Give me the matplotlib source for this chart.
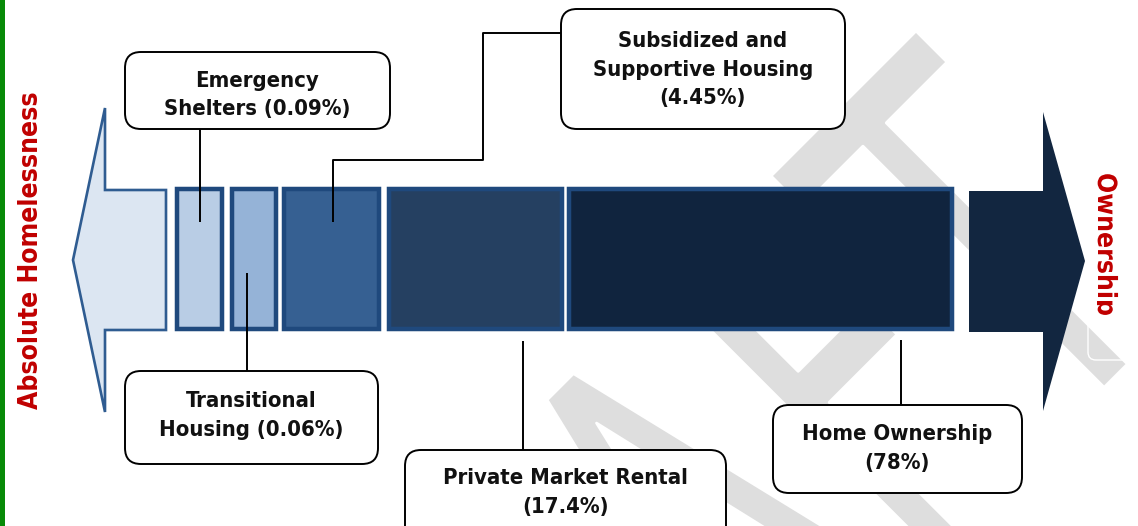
import numpy as np
import matplotlib
matplotlib.use("Agg")
import matplotlib.pyplot as plt
from matplotlib import font_manager as fm
from matplotlib.font_manager import FontProperties
from matplotlib.patches import Rectangle, Polygon, FancyBboxPatch, PathPatch
from matplotlib.textpath import TextPath
from matplotlib.transforms import Affine2D

# data: housing continuum, share of households by tenure
categories = ["Emergency Shelters", "Transitional Housing",
              "Subsidized and Supportive Housing", "Private Market Rental",
              "Home Ownership"]
shares = [0.09, 0.06, 4.45, 17.4, 78]
label_names = ["Emergency\nShelters", "Transitional\nHousing",
               "Subsidized and\nSupportive Housing", "Private Market Rental",
               "Home Ownership"]
pct_sep = [" ", " ", "\n", "\n", "\n"]
left_end = "Absolute Homelessness"
right_end = "Ownership"

seg_colors = ["#B9CDE5", "#95B3D7", "#366092", "#254061", "#10243E"]

# layout (pixels, y downwards)
W, H = 1138, 526
seg_x = [(175, 224), (230, 278), (282, 381), (387, 564), (567, 954)]
seg_y = (187, 331)
call_boxes = [(125, 52, 390, 129), (125, 371, 378, 464), (561, 9, 845, 129),
              (405, 450, 726, 545), (773, 405, 1022, 493)]
first_base = [87, 407, 47, 484, 440]
line_gap = 28.5
leaders = [
    [(200, 129), (200, 222)],
    [(247, 273), (247, 371)],
    [(561, 33), (483, 33), (483, 160), (333, 160), (333, 222)],
    [(523, 341), (523, 450)],
    [(901, 340), (901, 405)],
]

# Tahoma-like face if the condensed DejaVu is there
cond = FontProperties(family="DejaVu Sans", weight="bold", stretch="condensed")
if "Condensed" in fm.findfont(cond):
    FONT = dict(family="DejaVu Sans", fontstretch="condensed", fontweight="bold")
else:
    FONT = dict(family="Liberation Sans", fontweight="bold")

fig = plt.figure(figsize=(W / 100, H / 100), dpi=100)
ax = fig.add_axes([0, 0, 1, 1])
ax.set_xlim(0, W)
ax.set_ylim(H, 0)
ax.axis("off")

# grey DRAFT watermark, rotated 45 deg
wm_fp = FontProperties(family="DejaVu Sans")
wm = TextPath((0, 0), "DRAFT", size=1, prop=wm_fp)
tb = TextPath((0, 0), "T", size=1, prop=wm_fp).get_extents()
wb = wm.get_extents()
k = 385 / tb.y1
sx = 205 / (tb.width * k)
tr = (Affine2D().translate(-wb.x1, -tb.y1).scale(sx * k, k)
      .rotate_deg(45).scale(1, -1).translate(916, 31))
ax.add_patch(PathPatch(tr.transform_path(wm), fc="#DEDEDE", ec="white",
                       lw=2.0, joinstyle="round", zorder=0))

# faint outline of the text frame on the right (shows only on the grey)
ax.add_patch(FancyBboxPatch((1088, 140), 80, 220,
                            boxstyle="round,pad=0,rounding_size=8",
                            fc="none", ec="white", lw=1.0, zorder=0.5))

# green strip on the left edge
ax.add_patch(Rectangle((0, 0), 5, H, fc="#078A07", ec="none", zorder=1))

# left arrow (pointing to homelessness)
ax.add_patch(Polygon([(73, 260), (105, 108), (105, 190), (166, 190), (166, 330),
                      (105, 330), (105, 412)], closed=True, fc="#DCE6F2",
                     ec="#2F5C91", lw=1.9, zorder=2))
# right arrow (pointing to ownership)
ax.add_patch(Polygon([(969, 191), (1043, 191), (1043, 112), (1085, 261),
                      (1043, 411), (1043, 332), (969, 332)], closed=True,
                     fc="#122640", ec="none", zorder=2))

# segments
bw = 4.5
for (x0, x1), c in zip(seg_x, seg_colors):
    ax.add_patch(Rectangle((x0 + bw / 2, seg_y[0] + bw / 2), x1 - x0 - bw,
                           seg_y[1] - seg_y[0] - bw, fc=c, ec="#1F497D",
                           lw=bw / 1.389, zorder=2))

# leader lines
for pts in leaders:
    xs, ys = zip(*pts)
    ax.plot(xs, ys, color="black", lw=1.4, solid_capstyle="butt", zorder=3)

# callouts
for i, (x0, y0, x1, y1) in enumerate(call_boxes):
    ax.add_patch(FancyBboxPatch((x0, y0), x1 - x0, y1 - y0,
                                boxstyle="round,pad=0,rounding_size=16",
                                fc="white", ec="black", lw=1.4, zorder=4))
    txt = label_names[i] + pct_sep[i] + f"({shares[i]:g}%)"
    for j, line in enumerate(txt.split("\n")):
        ax.text((x0 + x1) / 2, first_base[i] + j * line_gap, line,
                ha="center", va="baseline", fontsize=15.8, color="#111111",
                zorder=5, **FONT)

# end labels
ax.text(38, 250, left_end, rotation=90, rotation_mode="anchor", ha="center",
        va="baseline", fontsize=19, color="#C00000", zorder=5, **FONT)

# right label as a path, so the cut-off descender can be clipped like the original
rp = FontProperties(family=FONT["family"], weight="bold",
                    stretch=FONT.get("fontstretch", "normal"))
own = TextPath((0, 0), right_end, size=19 * 100 / 72, prop=rp)
rot = Affine2D(np.array([[0, 1, 1098], [1, 0, 173], [0, 0, 1]], float))
own_patch = PathPatch(rot.transform_path(own), fc="#C00000", ec="none", zorder=5)
ax.add_patch(own_patch)
own_patch.set_clip_path(Rectangle((1097, 0), 60, H, transform=ax.transData))

fig.savefig("out.png", dpi=100, facecolor="white")
